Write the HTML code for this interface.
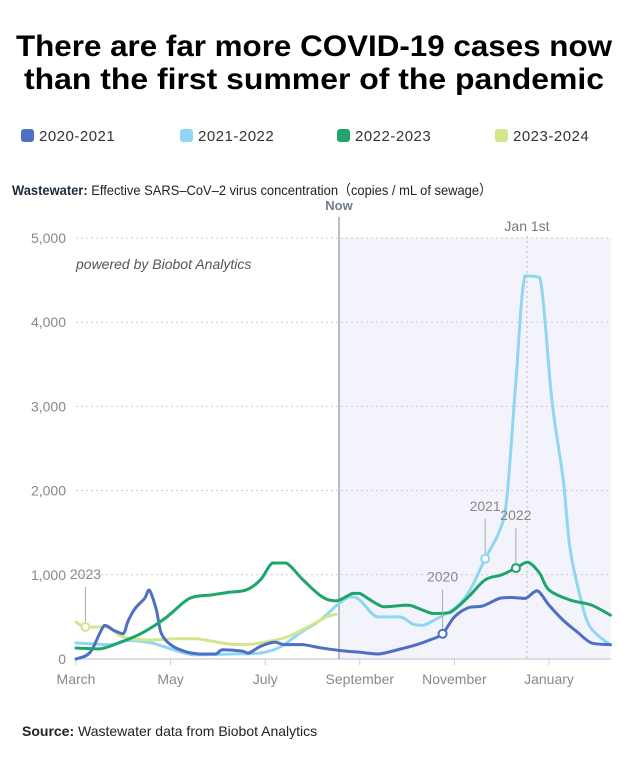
<!DOCTYPE html>
<html><head><meta charset="utf-8">
<style>
body{margin:0;background:#fff;width:629px;height:768px;overflow:hidden;font-family:"Liberation Sans",sans-serif;}
svg{display:block}
</style></head>
<body>
<svg id="chart" width="629" height="768" viewBox="0 0 629 768">
<text x="314" y="56" text-anchor="middle" font-size="30" font-weight="bold" fill="#000" textLength="596" lengthAdjust="spacingAndGlyphs">There are far more COVID-19 cases now</text>
<text x="314" y="89" text-anchor="middle" font-size="30" font-weight="bold" fill="#000" textLength="580" lengthAdjust="spacingAndGlyphs">than the first summer of the pandemic</text>
<g id="legend"></g>
<text x="12" y="195" font-size="14" fill="#222" textLength="480" lengthAdjust="spacingAndGlyphs"><tspan font-weight="bold" fill="#1d2b3a">Wastewater:</tspan> Effective SARS–CoV–2 virus concentration（copies / mL of sewage）</text>
<rect x="339" y="238" width="272" height="421" fill="#f3f4fb"/>
<g id="grid"></g>
<text x="76" y="269" font-size="14" font-style="italic" fill="#555">powered by Biobot Analytics</text>
<line x1="339" y1="217" x2="339" y2="659" stroke="#8894a4" stroke-width="1.2"/>
<text x="339" y="210" text-anchor="middle" font-size="13" font-weight="bold" fill="#6f7c8c">Now</text>
<line x1="527" y1="236" x2="527" y2="659" stroke="#bbb" stroke-dasharray="2,3"/>
<text x="527" y="231" text-anchor="middle" font-size="14" fill="#777">Jan 1st</text>
<g id="series"></g>
<g id="annot"></g>
<text x="22" y="736" font-size="14" fill="#222"><tspan font-weight="bold">Source:</tspan> Wastewater data from Biobot Analytics</text>
</svg>
<script>
const NS="http://www.w3.org/2000/svg";
const legendLabels=["2020-2021","2021-2022","2022-2023","2023-2024"];
const colors=["#4e6fc4","#90d6f2","#1fa56b","#d2e68c"];
const yTicks=[0,1000,2000,3000,4000,5000];
const yTickLabels=["0","1,000","2,000","3,000","4,000","5,000"];
const xTickLabels=["March","May","July","September","November","January"];
const xTickMonths=[0,2,4,6,8,10];
// month index from March 1
const m2020=[0,0.3,0.6,0.8,1.0,1.1,1.25,1.45,1.55,1.7,1.8,2.0,2.3,2.6,2.95,3.1,3.5,3.65,3.9,4.2,4.4,4.8,5.2,5.6,6.0,6.4,6.8,7.2,7.5,7.75,8.0,8.3,8.6,8.95,9.2,9.5,9.75,10.0,10.3,10.6,10.9,11.3];
const v2020=[0,80,400,340,300,450,600,720,820,580,310,170,90,60,60,110,95,70,150,200,170,170,130,100,80,60,110,170,230,300,500,610,630,720,730,720,810,640,460,320,190,170];
const m2021=[0,0.72,1.08,1.6,2.47,3.3,3.89,4.31,4.74,5.16,5.52,5.79,6.0,6.36,6.85,7.12,7.34,7.7,8.05,8.33,8.65,8.96,9.11,9.3,9.49,9.81,10.06,10.3,10.44,10.66,10.87,11.29];
const v2021=[190,170,220,190,50,60,70,140,310,460,640,740,700,500,500,415,400,500,620,820,1190,1530,1920,3300,4550,4530,3080,2130,1330,740,380,170];
const m2022=[0,0.5,0.9,1.4,1.9,2.4,2.85,3.2,3.6,3.9,4.15,4.45,4.8,5.2,5.5,5.85,6.0,6.5,7.0,7.2,7.55,7.9,8.3,8.65,9.0,9.3,9.55,9.8,10.0,10.45,10.9,11.3];
const v2022=[130,120,190,310,490,720,760,790,820,940,1140,1140,940,740,690,780,780,620,640,610,540,550,740,940,1000,1080,1150,1020,820,700,640,520];
const m2023=[0,0.2,0.65,1.0,1.5,2.1,2.55,3.2,3.6,4.0,4.45,4.9,5.3,5.5];
const v2023=[440,380,380,260,225,240,240,180,170,200,260,380,500,530];
const markerYears=["2023","2020","2021","2022"];
const markerSeries=[3,0,1,2];
const markerMonths=[0.2,7.75,8.65,9.3];
const markerLabelOffset=[48,52,48,48];
const allM=[m2020,m2021,m2022,m2023], allV=[v2020,v2021,v2022,v2023];
const X=m=>76+m*47.3, Y=v=>659-v*0.0842;
function mk(tag,attrs,parent){const e=document.createElementNS(NS,tag);for(const k in attrs)e.setAttribute(k,attrs[k]);parent.appendChild(e);return e;}
const leg=document.getElementById('legend');
const legX=[21,180,337,495];
legendLabels.forEach((l,i)=>{
 const r=mk('rect',{x:legX[i],y:129,width:13,height:13,rx:3,fill:colors[i]},leg);
 
 
 const t=mk('text',{x:legX[i]+18,y:141,'font-size':15,fill:'#333','letter-spacing':'0.5'},leg);t.textContent=l;
 
 
});
const g=document.getElementById('grid');
yTicks.forEach((v,i)=>{
 if(v>0){const ln=mk('line',{x1:76,x2:611,y1:Y(v),y2:Y(v),stroke:'#ccc','stroke-dasharray':'2,3'},g);
 
 }
 const t=mk('text',{x:66,y:Y(v)+5,'text-anchor':'end','font-size':14,fill:'#888'},g);t.textContent=yTickLabels[i];
 
 
});
const ax=mk('line',{x1:76,x2:611,y1:659,y2:659,stroke:'#c8ccd2','stroke-width':1.2},g);


xTickMonths.forEach((m,i)=>{
 const tk=mk('line',{x1:X(m),x2:X(m),y1:659,y2:665,stroke:'#c8ccd2'},g);
 
 
 const t=mk('text',{x:X(m),y:684,'text-anchor':'middle','font-size':14,fill:'#888'},g);t.textContent=xTickLabels[i];
 
 
});
function clamp(v,a,b){const lo=Math.min(a,b),hi=Math.max(a,b);return Math.max(lo,Math.min(hi,v));}
function smooth(pts){let d='M'+pts[0][0]+','+pts[0][1];
 for(let i=0;i<pts.length-1;i++){const p0=pts[i-1]||pts[i],p1=pts[i],p2=pts[i+1],p3=pts[i+2]||p2;
  const c1=[p1[0]+(p2[0]-p0[0])/6,clamp(p1[1]+(p2[1]-p0[1])/6,p1[1],p2[1])],c2=[p2[0]-(p3[0]-p1[0])/6,clamp(p2[1]-(p3[1]-p1[1])/6,p1[1],p2[1])];
  d+=' C'+c1+' '+c2+' '+p2;}return d;}
const sg=document.getElementById('series');
[1,3,0,2].forEach(i=>{
 const pts=allM[i].map((m,j)=>[X(m),Y(allV[i][j])]);
 const p=mk('path',{d:smooth(pts),fill:'none',stroke:colors[i],'stroke-width':3,'stroke-linejoin':'round','stroke-linecap':'round'},sg);
 
 
});
function interp(s,m){const M=allM[s],V=allV[s];for(let j=0;j<M.length-1;j++){if(m>=M[j]&&m<=M[j+1]){return V[j]+(V[j+1]-V[j])*(m-M[j])/(M[j+1]-M[j]);}}return V[V.length-1];}
const an=document.getElementById('annot');
markerYears.forEach((yr,i)=>{
 const s=markerSeries[i],x=X(markerMonths[i]),y=Y(interp(s,markerMonths[i]));
 const ln=mk('line',{x1:x,x2:x,y1:y-markerLabelOffset[i]+8,y2:y-4,stroke:'#aaa'},an);
 
 
 const c=mk('circle',{cx:x,cy:y,r:4,fill:'#fff',stroke:colors[s],'stroke-width':2},an);
 
 
 const t=mk('text',{x:x,y:y-markerLabelOffset[i],'text-anchor':'middle','font-size':14,fill:'#888'},an);t.textContent=yr;
 
 
});
</script>
</body></html>
